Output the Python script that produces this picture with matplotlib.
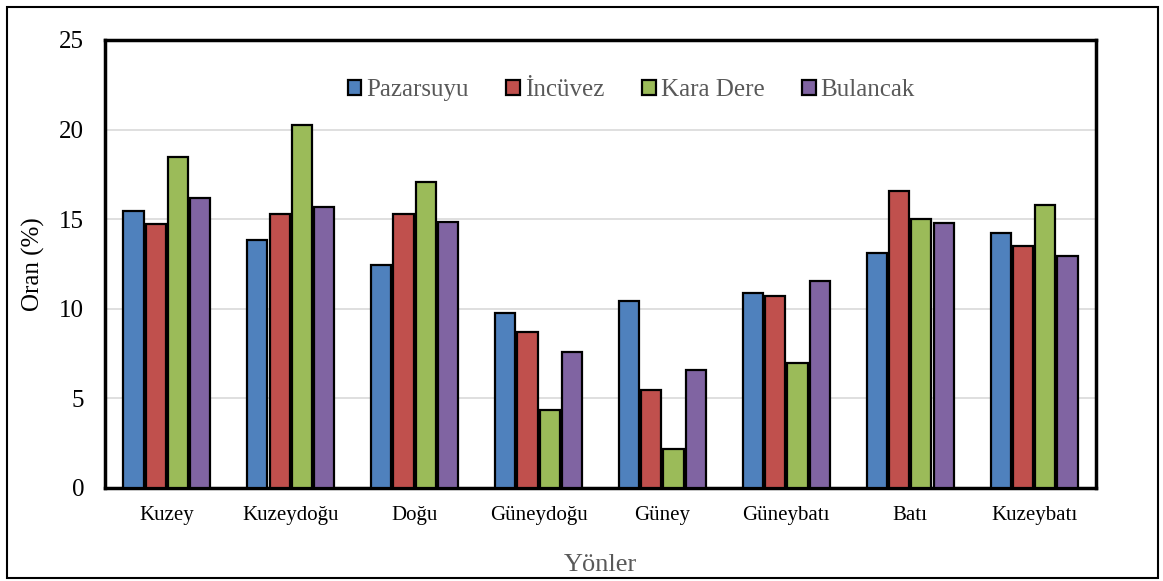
import matplotlib.pyplot as plt
import matplotlib.patches as mpatches
import numpy as np

categories = ["Kuzey", "Kuzeydoğu", "Doğu", "Güneydoğu", "Güney", "Güneybatı", "Batı", "Kuzeybatı"]
series_names = ["Pazarsuyu", "İncüvez", "Kara Dere", "Bulancak"]
pazarsuyu = [15.45, 13.84, 12.44, 9.77, 10.44, 10.88, 13.11, 14.23]
incuvez = [14.73, 15.29, 15.29, 8.71, 5.47, 10.71, 16.57, 13.50]
kara_dere = [18.47, 20.26, 17.08, 4.35, 2.18, 6.98, 15.01, 15.79]
bulancak = [16.18, 15.68, 14.84, 7.59, 6.58, 11.55, 14.79, 12.95]
colors = ["#4F81BD", "#C0504D", "#9BBB59", "#8064A2"]
yticks = [0, 5, 10, 15, 20, 25]

plt.rcParams["font.family"] = ["Liberation Serif", "DejaVu Serif"]

fig = plt.figure(figsize=(11.63, 5.81), dpi=100)
ax = fig.add_axes([105 / 1163, 93 / 581, 991 / 1163, 448 / 581])

x = np.arange(len(categories))
width = 0.163
step = 0.18
for i, (vals, name) in enumerate(zip([pazarsuyu, incuvez, kara_dere, bulancak], series_names)):
    ax.bar(x + (i - 1.5) * step, vals, width, color=colors[i], edgecolor="black",
           linewidth=1.6, label=name, zorder=3)

ax.set_xlim(-0.5, len(categories) - 0.5)
ax.set_ylim(0, 25)
ax.set_yticks(yticks)
ax.set_yticklabels([str(t) for t in yticks], fontsize=18)
ax.set_xticks(x)
ax.set_xticklabels(categories, fontsize=15)
ax.tick_params(axis="both", length=0)
ax.tick_params(axis="x", pad=13)
ax.tick_params(axis="y", pad=15)
ax.yaxis.grid(True, color="#D9D9D9", linewidth=1.2)
ax.set_axisbelow(True)
for sp in ax.spines.values():
    sp.set_linewidth(2.5)
    sp.set_color("black")

ax.set_ylabel("Oran (%)", fontsize=18, labelpad=10)
ax.set_xlabel("Yönler", fontsize=19, color="#595959", labelpad=21)

handles = [mpatches.Patch(facecolor=c, edgecolor="black", linewidth=1.6, label=n)
           for c, n in zip(colors, series_names)]
leg = ax.legend(handles=handles, loc="center", bbox_to_anchor=(0.531, 0.888), ncol=4,
                frameon=False, fontsize=18, handlelength=0.55, handleheight=0.55,
                handletextpad=0.2, columnspacing=1.5)
for t in leg.get_texts():
    t.set_color("#595959")

# outer border
fig.patches.append(mpatches.Rectangle((7 / 1163, 3 / 581), 1151 / 1163, 571 / 581,
                                      transform=fig.transFigure, fill=False,
                                      edgecolor="black", linewidth=1.5))

fig.savefig("out.png", dpi=100)
